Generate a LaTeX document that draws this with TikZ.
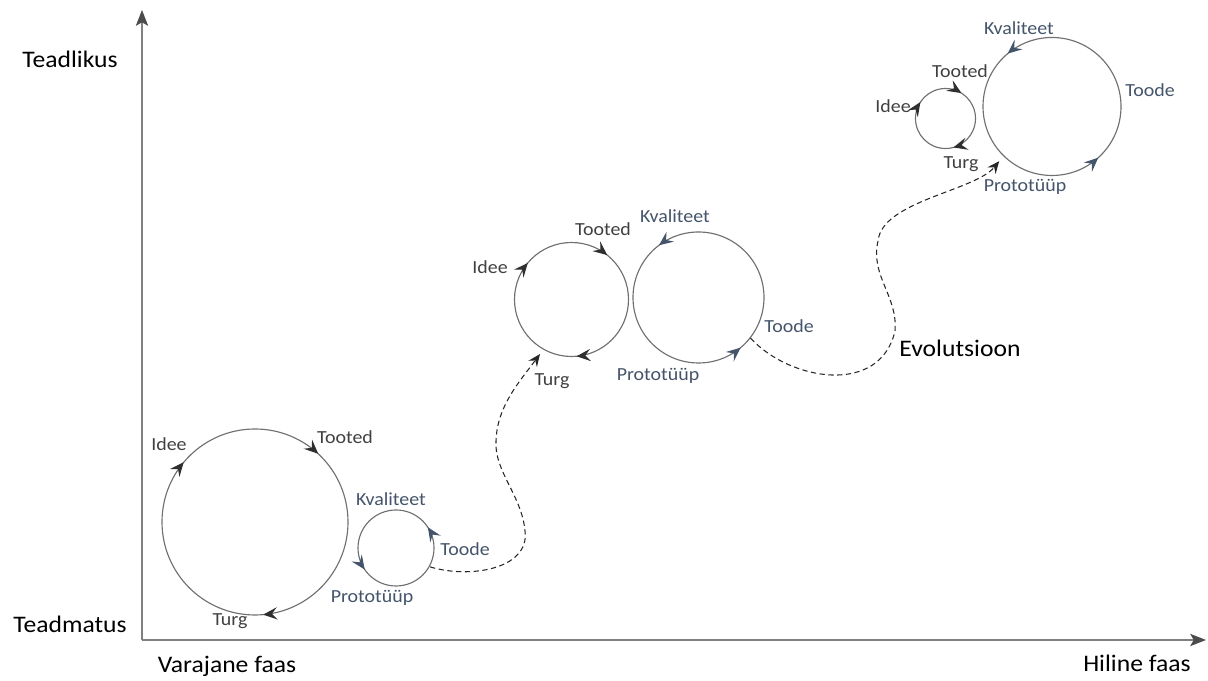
\documentclass[tikz,border=0pt]{standalone}
\usepackage{fontspec}
\setmainfont{Carlito}[FakeStretch=1.08]
\usetikzlibrary{arrows.meta,decorations.markings}
\definecolor{ringgray}{HTML}{707070}
\definecolor{labgray}{HTML}{404040}
\definecolor{labblue}{HTML}{44546A}
\definecolor{tipdark}{HTML}{2F2F2F}
\tikzset{
  ring/.style={draw=ringgray, line width=0.65pt},
  tipat/.style 2 args={postaction={decorate, decoration={markings,
      mark=at position #1 with {\arrow{Stealth[length=8pt,width=7pt,inset=3pt,color=#2]}}}}},
  lab/.style={font=\fontsize{10.5}{12}\selectfont, text=labgray, inner sep=0pt},
  labb/.style={lab, text=labblue},
  axlab/.style={font=\fontsize{13.5}{16}\selectfont, inner sep=0pt},
  axis/.style={draw=gray, line width=0.7pt, -{Stealth[length=9pt,width=7pt,inset=2pt,color=black!70]}},
  evo/.style={draw=black!85, line width=0.6pt, dash pattern=on 3pt off 2pt,
      -{Stealth[length=7pt,width=6pt,inset=2.5pt]}}
}
\begin{document}
\begin{tikzpicture}[x=0.2mm,y=0.2mm]
\useasboundingbox (0,0) rectangle (1208,681);
\coordinate (o) at (142,41);
\coordinate (ytop) at (142,671);
\coordinate (xend) at (1206,41);
\draw[axis] (o) -- (ytop);
\draw[axis] (o) -- (xend);
\node[axlab] (teadlikus) at (70,622) {Teadlikus};
\node[axlab] (teadmatus) at (70,57) {Teadmatus};
\node[axlab] (varajane) at (227,15) {Varajane faas};
\node[axlab] (hiline) at (1137,18) {Hiline faas};
\node[axlab] (evolutsioon) at (960,333) {Evolutsioon};

\coordinate (idee1) at (255,159);
\coordinate (toode1) at (396,133);
\coordinate (idee2) at (571.5,381.5);
\coordinate (toode2) at (698.5,383.5);
\coordinate (idee3) at (945.5,562.5);
\coordinate (toode3) at (1052,574.5);

\draw[ring, tipat={0.611}{tipdark}, tipat={0.869}{tipdark}, tipat={0.236}{tipdark}]
  ([shift={(0:93)}]idee1) arc[start angle=0, end angle=-360, radius=93];
\draw[ring, tipat={0.092}{labblue}, tipat={0.596}{labblue}]
  ([shift={(0:38)}]toode1) arc[start angle=0, end angle=360, radius=38];
\draw[ring, tipat={0.611}{tipdark}, tipat={0.858}{tipdark}, tipat={0.236}{tipdark}]
  ([shift={(0:57)}]idee2) arc[start angle=0, end angle=-360, radius=57];
\draw[ring, tipat={0.353}{labblue}, tipat={0.861}{labblue}]
  ([shift={(0:65.5)}]toode2) arc[start angle=0, end angle=360, radius=65.5];
\draw[ring, tipat={0.592}{tipdark}, tipat={0.839}{tipdark}, tipat={0.208}{tipdark}]
  ([shift={(0:30)}]idee3) arc[start angle=0, end angle=-360, radius=30];
\draw[ring, tipat={0.361}{labblue}, tipat={0.867}{labblue}]
  ([shift={(0:69)}]toode3) arc[start angle=0, end angle=360, radius=69];

\node[lab] (idee1a) at (169,237) {Idee};
\node[lab] (tooted1) at (345,244) {Tooted};
\node[lab] (turg1) at (230,60) {Turg};
\node[labb] (kval1) at (391,182) {Kvaliteet};
\node[labb] (toode1a) at (465,132) {Toode};
\node[labb] (proto1) at (372,83) {Prototüüp};

\node[lab] (idee2a) at (490,414) {Idee};
\node[lab] (tooted2) at (603,452) {Tooted};
\node[lab] (turg2) at (552,300) {Turg};
\node[labb] (kval2) at (675,465) {Kvaliteet};
\node[labb] (toode2a) at (789,355) {Toode};
\node[labb] (proto2) at (658,305) {Prototüüp};

\node[lab] (idee3a) at (893,575) {Idee};
\node[lab] (tooted3) at (960,610) {Tooted};
\node[lab] (turg3) at (961,517) {Turg};
\node[labb] (kval3) at (1019,653) {Kvaliteet};
\node[labb] (toode3a) at (1150,591) {Toode};
\node[labb] (proto3) at (1025,494) {Prototüüp};

\coordinate (s1) at ([shift={(-29:39)}]toode1);
\coordinate (e1) at ([shift={(-120:63)}]idee2);
\coordinate (s2) at ([shift={(-38:66)}]toode2);
\coordinate (e2) at ([shift={(-134:76)}]toode3);
\draw[evo] (s1) .. controls (470,102) and (530,112) .. (525,150)
  .. controls (522,185) and (494,210) .. (496,240)
  .. controls (497,275) and (520,300) .. (e1);
\draw[evo] (s2) .. controls (790,300) and (880,285) .. (895,350)
  .. controls (898,385) and (870,405) .. (878,440)
  .. controls (882,480) and (975,490) .. (e2);
\end{tikzpicture}
\end{document}
